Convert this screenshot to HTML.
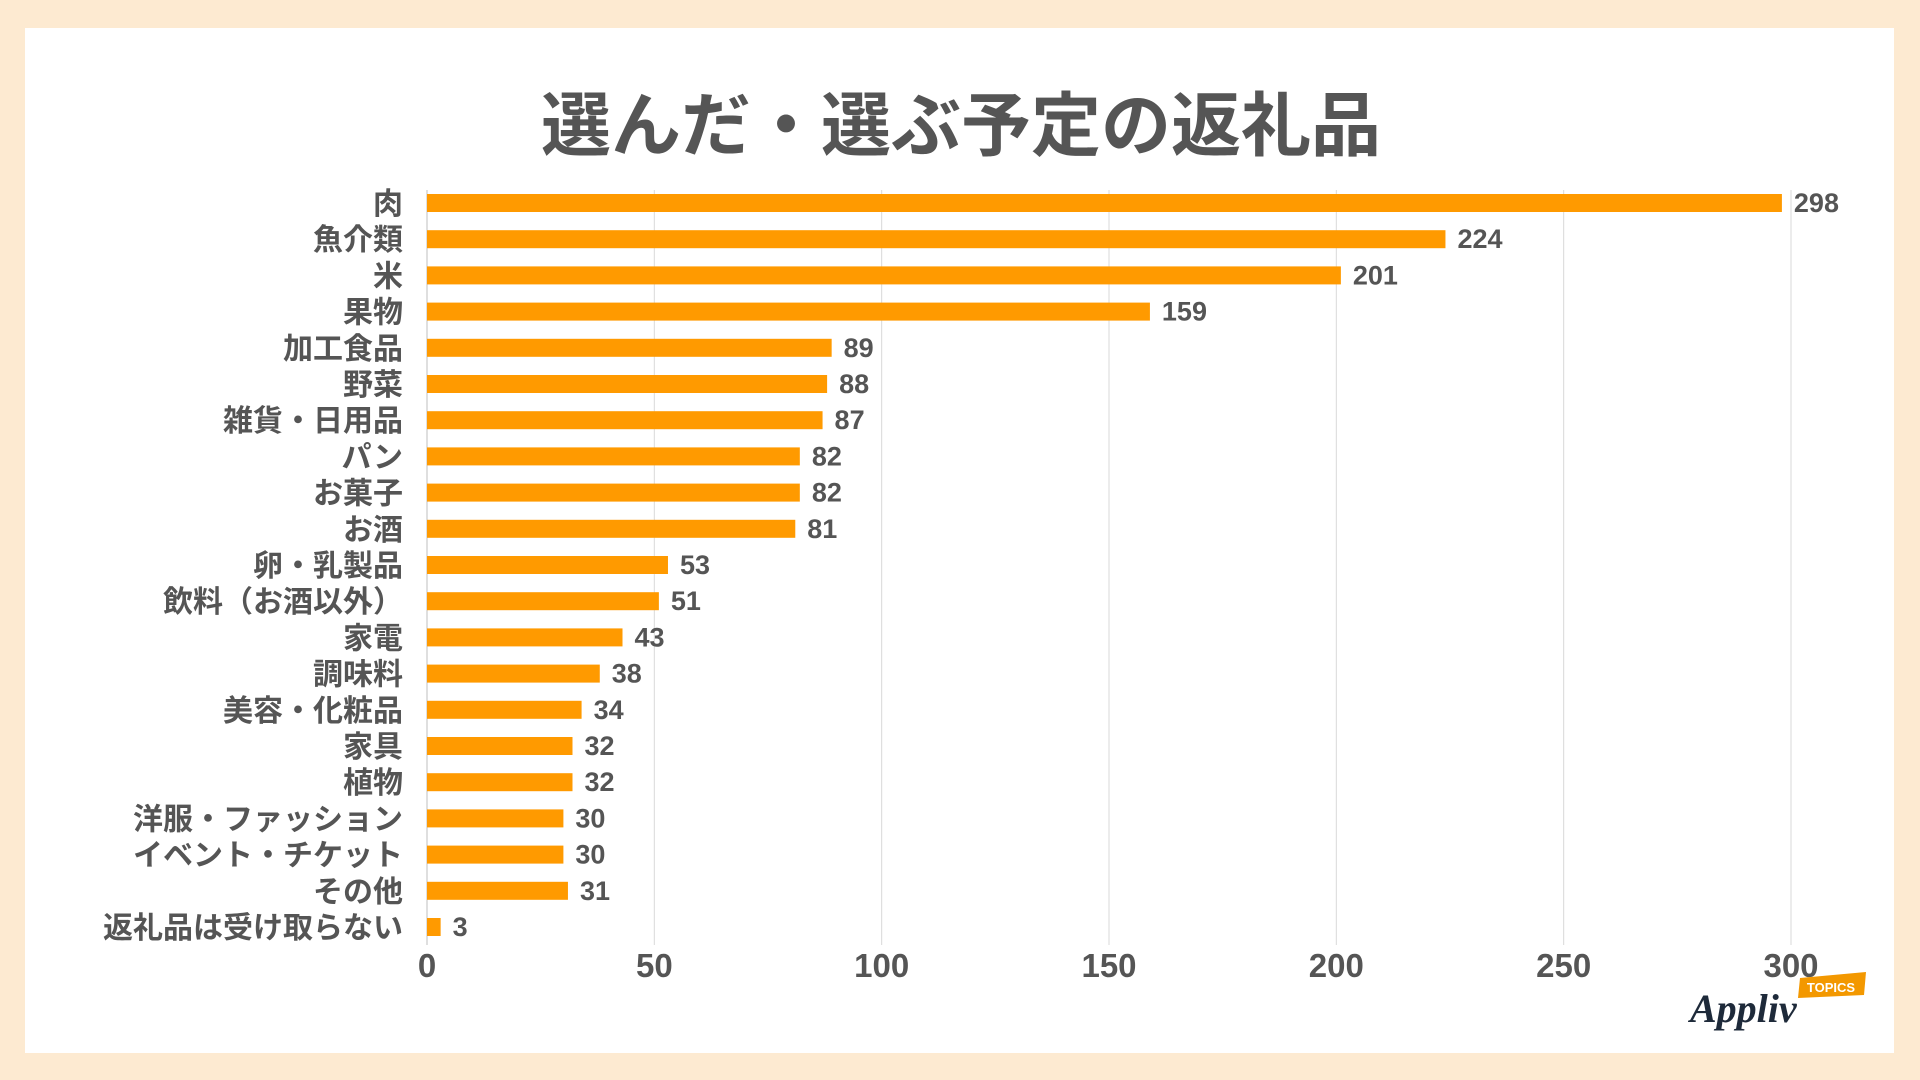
<!DOCTYPE html>
<html><head><meta charset="utf-8"><style>
html,body{margin:0;padding:0;}
body{width:1920px;height:1080px;background:#fdead1;position:relative;overflow:hidden;font-family:"Liberation Sans","Noto Sans CJK JP",sans-serif;}
#panel{position:absolute;left:25px;top:28px;width:1869px;height:1025px;background:#fff;}
svg{position:absolute;left:0;top:0;}
</style></head><body>
<div id="panel"></div>
<svg id="chart" width="1920" height="1080"></svg>
<script>
const categories=["肉","魚介類","米","果物","加工食品","野菜","雑貨・日用品","パン","お菓子","お酒","卵・乳製品","飲料（お酒以外）","家電","調味料","美容・化粧品","家具","植物","洋服・ファッション","イベント・チケット","その他","返礼品は受け取らない"];
const values=[298,224,201,159,89,88,87,82,82,81,53,51,43,38,34,32,32,30,30,31,3];
const ticks=[0,50,100,150,200,250,300];
const NS="http://www.w3.org/2000/svg";
const svg=document.getElementById('chart');
const x0=427,x1=1791,xmax=300,yTop=190,yBot=945,rowH=36.2,firstC=203,barH=18;
const xs=v=>x0+(v/xmax)*(x1-x0);
const yc=i=>firstC+i*rowH;
function mk(t,a){const e=document.createElementNS(NS,t);for(const k in a)e.setAttribute(k,a[k]);svg.appendChild(e);return e;}
const title=mk('text',{x:961,y:150,'text-anchor':'middle','font-size':70,'font-weight':'bold',fill:'#555'});
title.textContent='選んだ・選ぶ予定の返礼品';


ticks.forEach(t=>{
  if(t>0){const g=mk('line',{x1:xs(t),x2:xs(t),y1:yTop,y2:yBot,stroke:'#d9d9d9','stroke-width':1});
  
  }
  const l=mk('text',{x:xs(t),y:977,'text-anchor':'middle','font-size':33,'font-weight':'bold',fill:'#555'});
  l.textContent=t;
  
  
});
const ax=mk('line',{x1:x0,x2:x0,y1:yTop,y2:yBot,stroke:'#bfbfbf','stroke-width':1});


categories.forEach((c,i)=>{
  const y=yc(i);
  const b=mk('rect',{x:x0,y:y-barH/2,width:xs(values[i])-x0,height:barH,fill:'#ff9a00'});
  
  
  const l=mk('text',{x:403,y:y+11,'text-anchor':'end','font-size':30,'font-weight':'bold',fill:'#555'});
  l.textContent=c;
  
  
  const v=mk('text',{x:xs(values[i])+12,y:y+9,'font-size':27,'font-weight':'bold',fill:'#555'});
  v.textContent=values[i];
  
  
});
</script>
<svg width="1920" height="1080" style="pointer-events:none">
<polygon points="1800,978 1866,972 1864,995 1798,998" fill="#f39800"/>
<text x="1831" y="992" text-anchor="middle" font-size="13" font-weight="bold" fill="#fff" font-family="Liberation Sans,sans-serif">TOPICS</text>
<text x="1690" y="1022" font-size="40" font-style="italic" font-weight="bold" fill="#1e2a3a" font-family="Liberation Serif,serif">Appliv</text>
</svg>
</body></html>
